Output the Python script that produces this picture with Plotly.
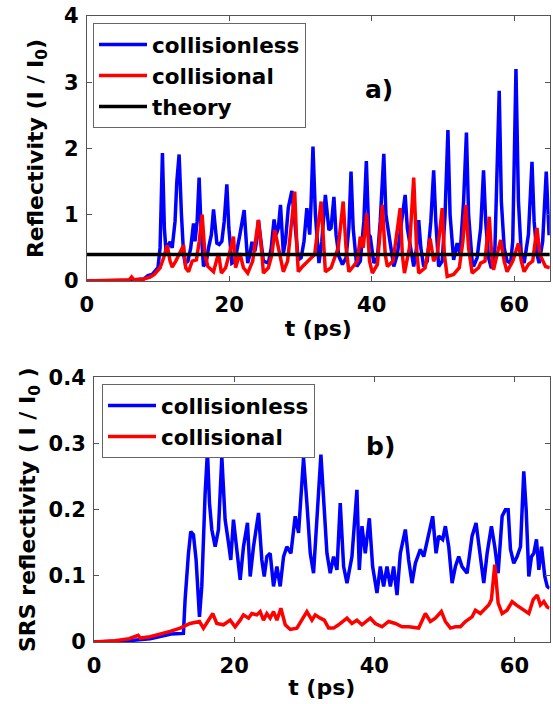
import plotly.graph_objects as go

# ---------------- panel a) data ----------------
a_blue_t = [0, 5, 8.0, 8.6, 9.2, 9.6, 10.0, 10.3, 10.63, 10.9, 11.15, 11.5, 11.7, 12.0, 12.4, 12.65, 12.97, 13.3,
            13.6, 13.82, 14.2, 14.6, 14.99, 15.2, 15.5, 15.78, 16.05, 16.39, 16.8, 17.1, 17.5, 17.8, 18.0, 18.27,
            18.6, 18.97, 19.3, 19.67, 19.95, 20.37, 20.8, 21.1, 21.5, 22.1, 22.35, 22.6, 22.9, 23.2, 23.6, 23.85,
            24.1, 24.4, 24.8, 25.5, 25.9, 26.3, 26.6, 26.9, 27.2, 27.6, 27.9, 28.3, 28.8, 29.2, 29.7, 30.1, 30.5,
            30.9, 31.3, 31.5, 31.76, 32.1, 32.6, 33.0, 33.5, 34.0, 34.3, 34.7, 35.0, 35.4, 35.9, 36.4, 36.8, 37.1,
            37.4, 37.9, 38.4, 38.9, 39.25, 39.6, 39.8, 40.3, 40.8, 41.2, 41.7, 42.0, 42.4, 42.7, 43.1, 43.6, 44.2,
            44.7, 45.0, 45.4, 45.9, 46.3, 46.6, 46.9, 47.3, 47.8, 48.3, 48.7, 49.0, 49.4, 49.9, 50.3, 50.7, 51.0,
            51.5, 52.0, 52.4, 52.9, 53.3, 53.6, 54.1, 54.3, 54.8, 55.3, 55.7, 56.0, 56.4, 56.8, 57.3, 57.9, 58.2,
            58.6, 59.0, 59.5, 59.8, 60.25, 60.6, 61.0, 61.4, 62.0, 62.5, 62.8, 63.2, 63.5, 64.0, 64.5, 64.9]
a_blue_v = [0, 0.0, 0.03, 0.08, 0.1, 0.15, 0.2, 0.5, 1.93, 0.8, 0.42, 0.55, 0.59, 0.5, 0.9, 1.5, 1.91, 1.0,
            0.4, 0.27, 0.3, 0.5, 0.87, 0.6, 0.9, 1.56, 0.8, 0.22, 0.3, 0.5, 0.7, 1.08, 0.8, 0.57,
            0.55, 0.6, 0.9, 1.46, 0.8, 0.27, 0.3, 0.45, 0.7, 1.07, 0.6, 0.27, 0.4, 0.59, 0.45, 0.6,
            0.92, 0.6, 0.3, 0.27, 0.5, 0.93, 0.7, 0.8, 1.15, 0.42, 0.6, 1.11, 1.36, 0.9, 0.32, 0.35, 0.6,
            1.1, 0.7, 1.2, 2.03, 1.0, 0.27, 0.6, 1.3, 0.77, 0.8, 1.27, 0.7, 0.37, 0.25, 0.35, 0.8, 1.65,
            0.8, 0.22, 0.3, 0.9, 1.81, 0.7, 0.67, 0.27, 0.35, 0.9, 1.92, 1.0, 0.67, 0.5, 0.22, 0.4, 0.9,
            1.3, 0.8, 0.52, 0.22, 0.5, 0.92, 0.5, 0.22, 0.3, 0.9, 1.67, 0.9, 0.22, 0.3, 1.0, 2.28, 1.0,
            0.32, 0.57, 0.4, 1.2, 2.24, 1.0, 0.3, 0.22, 0.35, 0.8, 1.67, 0.9, 0.35, 0.19, 0.5, 2.87, 1.2,
            0.5, 0.3, 0.27, 0.6, 3.2, 1.2, 0.4, 0.27, 0.7, 1.8, 0.9, 0.4, 0.27, 0.6, 1.65, 0.69]

a_red_t = [0, 4, 6.0, 6.3, 6.6, 8.0, 8.9, 9.5, 10.3, 10.8, 11.3, 11.7, 12.0, 12.5, 13.0, 13.6, 13.9, 14.3, 14.8,
           15.4, 15.8, 16.2, 16.6, 17.0, 17.8, 18.5, 18.9, 19.5, 20.0, 20.6, 20.9, 21.5, 22.0, 22.6, 23.3, 24.1,
           24.6, 24.8, 25.5, 26.0, 26.4, 26.9, 27.6, 28.2, 28.7, 29.2, 29.5, 29.7, 30.3, 31.3, 32.0, 32.9, 33.3,
           33.5, 34.3, 34.7, 35.3, 36.0, 36.4, 36.8, 37.3, 38.0, 38.4, 38.8, 39.3, 39.7, 40.1, 40.8, 41.5, 41.9,
           42.2, 43.0, 44.0, 44.3, 44.6, 45.3, 45.9, 46.3, 46.6, 47.5, 48.2, 48.7, 49.2, 49.9, 50.2, 50.6, 51.5,
           52.3, 52.8, 53.2, 53.6, 54.1, 55.0, 55.3, 55.9, 56.5, 56.9, 57.1, 57.6, 58.1, 58.6, 59.0, 59.8, 60.6,
           61.0, 61.4, 62.0, 62.6, 63.2, 63.6, 64.4, 65.0]
a_red_v = [0, 0.01, 0.02, 0.06, 0.02, 0.03, 0.06, 0.1, 0.2, 0.35, 0.54, 0.3, 0.21, 0.3, 0.4, 0.54, 0.2, 0.14, 0.3,
           0.32, 0.6, 1.0, 0.4, 0.22, 0.14, 0.42, 0.12, 0.2, 0.4, 0.67, 0.2, 0.42, 0.2, 0.12, 0.3, 0.92,
           0.4, 0.12, 0.2, 0.4, 0.77, 0.52, 0.14, 0.3, 0.8, 1.35, 0.5, 0.14, 0.22, 0.32, 0.4, 1.2, 0.4,
           0.14, 0.2, 0.32, 0.5, 1.2, 0.5, 0.14, 0.2, 0.3, 0.67, 0.5, 1.02, 0.3, 0.12, 0.25, 1.15, 0.4,
           0.22, 0.3, 1.1, 0.4, 0.12, 0.5, 1.56, 0.5, 0.12, 0.2, 0.64, 0.3, 0.4, 1.1, 0.4, 0.07, 0.1,
           0.2, 0.6, 1.15, 0.5, 0.12, 0.2, 0.27, 0.3, 0.97, 0.3, 0.17, 0.4, 0.62, 0.3, 0.14, 0.3, 0.57,
           0.3, 0.14, 0.25, 0.3, 0.8, 0.4, 0.22, 0.2]

theory_t = [0, 65]
theory_v = [0.4, 0.4]

# ---------------- panel b) data ----------------
b_blue_t = [0, 5, 8, 10, 11, 12.76, 13.0, 13.48, 13.81, 14.19, 14.57, 15.05, 15.38, 15.86, 16.19, 16.48, 16.81,
            17.29, 17.76, 18.24, 18.71, 19.19, 19.52, 19.9, 20.38, 20.86, 21.33, 21.9, 22.29, 22.76, 23.48, 23.95,
            24.29, 24.67, 25.14, 25.62, 26.1, 26.57, 27.05, 27.52, 28.1, 28.71, 29.19, 29.9, 30.38, 30.86, 31.33,
            31.81, 32.38, 32.86, 33.24, 33.71, 34.19, 34.67, 35.14, 35.62, 36.1, 36.81, 37.29, 37.52, 37.86, 38.24,
            38.71, 39.29, 39.76, 40.38, 40.86, 41.33, 41.81, 42.29, 42.76, 43.24, 43.71, 44.43, 44.9, 45.38, 45.86,
            46.57, 47.05, 47.76, 48.33, 48.81, 49.19, 49.76, 50.14, 50.62, 51.1, 51.57, 52.05, 52.52, 53.24, 53.95,
            54.52, 55.0, 55.62, 56.1, 56.71, 57.19, 57.67, 58.24, 58.71, 59.1, 59.43, 59.9, 60.38, 60.86, 61.33,
            61.67, 62.05, 62.43, 62.76, 63.14, 63.48, 63.86, 64.33, 64.67, 65.0]
b_blue_v = [0, 0.002, 0.005, 0.01, 0.012, 0.013, 0.064, 0.134, 0.167, 0.162, 0.124, 0.038, 0.084, 0.225, 0.288,
            0.21, 0.17, 0.144, 0.17, 0.28, 0.185, 0.15, 0.124, 0.185, 0.134, 0.094, 0.144, 0.18, 0.099, 0.144,
            0.195, 0.124, 0.099, 0.129, 0.134, 0.084, 0.114, 0.084, 0.129, 0.144, 0.134, 0.19, 0.165, 0.278, 0.21,
            0.134, 0.104, 0.185, 0.283, 0.2, 0.134, 0.104, 0.129, 0.109, 0.21, 0.114, 0.089, 0.129, 0.2, 0.23,
            0.109, 0.175, 0.134, 0.187, 0.114, 0.074, 0.114, 0.084, 0.114, 0.084, 0.114, 0.071, 0.134, 0.17,
            0.124, 0.089, 0.119, 0.14, 0.129, 0.165, 0.19, 0.134, 0.16, 0.155, 0.175, 0.144, 0.089, 0.114, 0.129,
            0.114, 0.104, 0.16, 0.18, 0.14, 0.089, 0.134, 0.175, 0.144, 0.104, 0.19, 0.2, 0.2, 0.14, 0.119, 0.129,
            0.144, 0.258, 0.2, 0.099, 0.129, 0.134, 0.155, 0.109, 0.144, 0.099, 0.084, 0.081]

b_red_t = [0, 3, 5, 6.3, 6.6, 8, 10.86, 12.29, 13.71, 15.05, 15.62, 16.95, 17.52, 18.48, 19.43, 20.14, 20.86,
           21.33, 22.05, 22.52, 23.24, 23.71, 24.19, 24.67, 25.14, 25.62, 26.1, 26.67, 27.29, 28.0, 28.95, 29.67,
           30.38, 31.1, 31.57, 32.29, 32.86, 33.48, 34.19, 34.9, 35.62, 36.1, 36.81, 37.52, 38.24, 39.43, 40.14,
           41.1, 42.05, 43.0, 43.95, 44.9, 46.33, 47.29, 48.0, 48.71, 49.57, 50.14, 50.86, 51.57, 52.29, 53.0,
           53.95, 54.43, 55.14, 55.95, 56.33, 56.71, 57.19, 57.67, 58.24, 58.95, 59.67, 60.24, 60.86, 61.57,
           62.05, 62.67, 63.24, 63.71, 64.19, 64.67, 65.0]
b_red_v = [0, 0.002, 0.005, 0.01, 0.006, 0.008, 0.016, 0.021, 0.028, 0.031, 0.021, 0.043, 0.028, 0.026, 0.033,
           0.023, 0.033, 0.041, 0.036, 0.043, 0.041, 0.046, 0.033, 0.043, 0.036, 0.046, 0.033, 0.051, 0.026,
           0.019, 0.021, 0.033, 0.046, 0.033, 0.041, 0.036, 0.033, 0.021, 0.021, 0.026, 0.033, 0.036, 0.028,
           0.033, 0.026, 0.036, 0.028, 0.023, 0.031, 0.028, 0.023, 0.023, 0.021, 0.043, 0.031, 0.036, 0.046,
           0.031, 0.021, 0.023, 0.023, 0.031, 0.038, 0.048, 0.043, 0.051, 0.056, 0.064, 0.117, 0.059, 0.043,
           0.048, 0.061, 0.056, 0.051, 0.046, 0.043, 0.064, 0.071, 0.056, 0.061, 0.053, 0.051]

x_ticks = [0, 20, 40, 60]
a_y_ticks = [0, 1, 2, 3, 4]
b_y_ticks = [0, 0.1, 0.2, 0.3, 0.4]
b_y_ticktext = ["0", "0.1", "0.2", "0.3", "0.4"]

BLUE = "#0000FF"
RED = "#FF0000"
FONT = "DejaVu Sans"
W, H = 553, 704
LW = 3.5

fig = go.Figure()
fig.add_trace(go.Scatter(x=a_blue_t, y=a_blue_v, mode="lines", name="collisionless",
                         line=dict(color=BLUE, width=LW), xaxis="x", yaxis="y", legend="legend"))
fig.add_trace(go.Scatter(x=a_red_t, y=a_red_v, mode="lines", name="collisional",
                         line=dict(color=RED, width=LW), xaxis="x", yaxis="y", legend="legend"))
fig.add_trace(go.Scatter(x=theory_t, y=theory_v, mode="lines", name="theory",
                         line=dict(color="black", width=LW), xaxis="x", yaxis="y", legend="legend"))
fig.add_trace(go.Scatter(x=b_blue_t, y=b_blue_v, mode="lines", name="collisionless",
                         line=dict(color=BLUE, width=LW), xaxis="x2", yaxis="y2", legend="legend2"))
fig.add_trace(go.Scatter(x=b_red_t, y=b_red_v, mode="lines", name="collisional",
                         line=dict(color=RED, width=LW), xaxis="x2", yaxis="y2", legend="legend2"))

tickfont = dict(family=FONT, size=21, color="black", weight="bold")
titlefont = dict(family=FONT, size=22, color="black", weight="bold")
axis_common = dict(showline=True, linecolor="#555555", linewidth=1, mirror="ticks",
                   ticks="inside", ticklen=5, tickcolor="#555555", tickwidth=1,
                   showgrid=False, zeroline=False, tickfont=tickfont, automargin=False)
legfont = dict(family=FONT, size=21.5, color="black", weight="bold")

fig.update_layout(
    width=W, height=H,
    margin=dict(l=0, r=0, t=0, b=0),
    paper_bgcolor="white", plot_bgcolor="white",
    font=dict(family=FONT, color="black"),
    xaxis=dict(domain=[86.7 / W, 549.8 / W], range=[0, 65], tickvals=x_ticks, anchor="y",
               title=dict(text="t (ps)", font=titlefont, standoff=4), ticklabelstandoff=5, **axis_common),
    yaxis=dict(domain=[1 - 281 / H, 1 - 16 / H], range=[0, 4], tickvals=a_y_ticks, anchor="x",
               title=dict(text="Reflectivity (I / I<sub>0</sub>)", font=titlefont, standoff=14),
               ticklabelstandoff=3, **axis_common),
    xaxis2=dict(domain=[94 / W, 549.5 / W], range=[0, 65], tickvals=x_ticks, anchor="y2",
                title=dict(text="t (ps)", font=titlefont, standoff=2), ticklabelstandoff=5, **axis_common),
    yaxis2=dict(domain=[1 - 642 / H, 1 - 377.3 / H], range=[0, 0.4], tickvals=b_y_ticks,
                ticktext=b_y_ticktext, anchor="x2",
                title=dict(text="SRS reflectivity ( I / I<sub>0</sub> )", font=titlefont, standoff=6),
                ticklabelstandoff=3, **axis_common),
    legend=dict(x=93 / W, y=1 - 23 / H, xanchor="left", yanchor="top", xref="paper", yref="paper",
                bgcolor="white", bordercolor="#666666", borderwidth=1, font=legfont, tracegroupgap=0,
                itemwidth=48),
    legend2=dict(x=102 / W, y=1 - 384 / H, xanchor="left", yanchor="top", xref="paper", yref="paper",
                 bgcolor="white", bordercolor="#666666", borderwidth=1, font=legfont, tracegroupgap=0,
                 itemwidth=48),
    annotations=[
        dict(text="a)", x=378.5 / W, y=1 - 90 / H, xref="paper", yref="paper", showarrow=False,
             xanchor="center", yanchor="middle", font=dict(family=FONT, size=25, color="black", weight="bold")),
        dict(text="b)", x=380 / W, y=1 - 447 / H, xref="paper", yref="paper", showarrow=False,
             xanchor="center", yanchor="middle", font=dict(family=FONT, size=25, color="black", weight="bold")),
    ],
)

fig.write_html("out.html")
